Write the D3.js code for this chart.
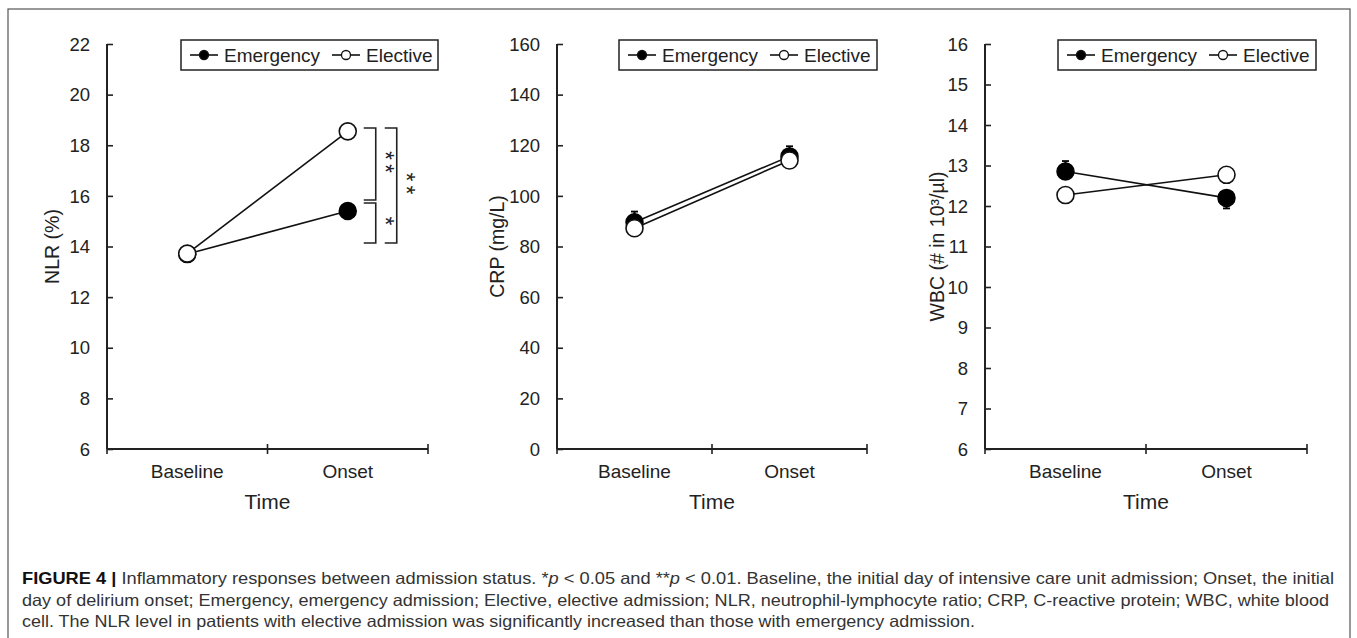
<!DOCTYPE html>
<html>
<head>
<meta charset="utf-8">
<script src="https://cdn.jsdelivr.net/npm/d3@7"></script>
<style>
  html, body { margin: 0; padding: 0; background: #fff; }
  svg { display: block; font-family: "Liberation Sans", Arial, sans-serif; }
</style>
</head>
<body>
<svg id="chart" width="1357" height="638"></svg>
<script>
// ---------- data ----------
const categories = ["Baseline", "Onset"];
const seriesNames = ["Emergency", "Elective"];

const nlrEmergency = [13.7, 15.4];
const nlrElective  = [13.72, 18.55];
const nlrTicks = [6, 8, 10, 12, 14, 16, 18, 20, 22];

const crpEmergency = [89.6, 115.6];
const crpElective  = [87.2, 114.0];
const crpEmergencyErr = [4.2, 4.0];
const crpTicks = [0, 20, 40, 60, 80, 100, 120, 140, 160];

const wbcEmergency = [12.85, 12.2];
const wbcElective  = [12.27, 12.77];
const wbcEmergencyErr = [0.26, -0.26];   // sign = direction of the drawn half bar
const wbcTicks = [6, 7, 8, 9, 10, 11, 12, 13, 14, 15, 16];

// significance brackets for NLR at Onset: [from, to, label, level]
const nlrBrackets = [
  [18.68, 15.84, "**", 0],
  [15.72, 14.14, "*", 0],
  [18.68, 14.14, "**", 1]
];

const captionLines = [
  [{t: "FIGURE 4 |", b: true}, {t: " Inflammatory responses between admission status. *"}, {t: "p", i: true}, {t: " < 0.05 and **"}, {t: "p", i: true}, {t: " < 0.01. Baseline, the initial day of intensive care unit admission; Onset, the initial"}],
  [{t: "day of delirium onset; Emergency, emergency admission; Elective, elective admission; NLR, neutrophil-lymphocyte ratio; CRP, C-reactive protein; WBC, white blood"}],
  [{t: "cell. The NLR level in patients with elective admission was significantly increased than those with emergency admission."}]
];

// ---------- layout ----------
const svg = d3.select("#chart");

// outer frame
svg.append("rect").attr("x", 8).attr("y", 9).attr("width", 1342).attr("height", 640)
  .attr("fill", "none").attr("stroke", "#555").attr("stroke-width", 1.2);

const panels = [
  {x0: 107, x1: 428, domain: [6, 22], ticks: nlrTicks, label: "NLR (%)", labelX: 52,
   em: nlrEmergency, el: nlrElective, emErr: null, legendX: 181, legendW: 257, brackets: nlrBrackets},
  {x0: 557, x1: 867, domain: [0, 160], ticks: crpTicks, label: "CRP (mg/L)", labelX: 497,
   em: crpEmergency, el: crpElective, emErr: crpEmergencyErr, legendX: 619, legendW: 258},
  {x0: 985, x1: 1307, domain: [6, 16], ticks: wbcTicks, label: "WBC (# in 10³/µl)", labelX: 937,
   em: wbcEmergency, el: wbcElective, emErr: wbcEmergencyErr, legendX: 1058, legendW: 258}
];

const yTop = 44, yBot = 449;

panels.forEach(p => {
  const g = svg.append("g");
  const x = d3.scaleBand().domain(categories).range([p.x0, p.x1]);
  const y = d3.scaleLinear().domain(p.domain).range([yBot, yTop]);
  const cx = c => x(c) + x.bandwidth() / 2;

  // y axis
  const yAxis = d3.axisRight(y).tickValues(p.ticks).tickSize(6).tickFormat("");
  const ya = g.append("g").attr("transform", `translate(${p.x0},0)`).call(yAxis);
  ya.select(".domain").attr("stroke", "#222").attr("stroke-width", 2).attr("d", `M0,${yTop}V${yBot}`);
  ya.selectAll(".tick line").attr("stroke", "#222").attr("stroke-width", 1.6);
  g.selectAll(".ytl").data(p.ticks).enter().append("text")
    .attr("x", p.x0 - 17).attr("y", d => y(d)).attr("dy", "0.36em")
    .attr("text-anchor", "end").attr("font-size", 18.5).attr("fill", "#222").text(d => d);

  // x axis with crossing ticks at band edges
  g.append("line").attr("x1", p.x0).attr("x2", p.x1).attr("y1", yBot).attr("y2", yBot)
    .attr("stroke", "#222").attr("stroke-width", 2);
  const edges = [p.x0, x(categories[1]), p.x1];
  g.selectAll(".xt").data(edges).enter().append("line")
    .attr("x1", d => d).attr("x2", d => d).attr("y1", yBot - 5).attr("y2", yBot + 5)
    .attr("stroke", "#222").attr("stroke-width", 1.6);
  g.selectAll(".xtl").data(categories).enter().append("text")
    .attr("x", d => cx(d)).attr("y", 478).attr("text-anchor", "middle")
    .attr("font-size", 19).attr("fill", "#222").text(d => d);
  g.append("text").attr("x", (p.x0 + p.x1) / 2).attr("y", 509).attr("text-anchor", "middle")
    .attr("font-size", 21).attr("fill", "#222").text("Time");

  // y label
  g.append("text").attr("transform", `translate(${p.labelX},${(yTop + yBot) / 2}) rotate(-90)`)
    .attr("text-anchor", "middle").attr("dy", "0.36em")
    .attr("font-size", 19.5).attr("fill", "#222").text(p.label);

  // lines
  const line = d3.line().x((d, i) => cx(categories[i])).y(d => y(d));
  [p.em, p.el].forEach(vals => {
    g.append("path").datum(vals).attr("d", line).attr("fill", "none")
      .attr("stroke", "#111").attr("stroke-width", 1.6);
  });

  // error bars (emergency), short half bars peeking out of the markers
  if (p.emErr) {
    p.em.forEach((v, i) => {
      const e = p.emErr[i];
      const xc = cx(categories[i]);
      g.append("line").attr("x1", xc).attr("x2", xc).attr("y1", y(v)).attr("y2", y(v + e))
        .attr("stroke", "#000").attr("stroke-width", 2);
      g.append("line").attr("x1", xc - 3.5).attr("x2", xc + 3.5).attr("y1", y(v + e)).attr("y2", y(v + e))
        .attr("stroke", "#000").attr("stroke-width", 1.8);
    });
  }

  // markers: emergency filled, elective open (drawn on top)
  g.selectAll(".em").data(p.em).enter().append("circle")
    .attr("cx", (d, i) => cx(categories[i])).attr("cy", d => y(d)).attr("r", 8.5)
    .attr("fill", "#000").attr("stroke", "#000").attr("stroke-width", 1.5);
  g.selectAll(".el").data(p.el).enter().append("circle")
    .attr("cx", (d, i) => cx(categories[i])).attr("cy", d => y(d)).attr("r", 8.5)
    .attr("fill", "#fff").attr("stroke", "#111").attr("stroke-width", 1.6);

  // legend
  const lg = g.append("g");
  lg.append("rect").attr("x", p.legendX).attr("y", 40).attr("width", p.legendW).attr("height", 30)
    .attr("fill", "#fff").attr("stroke", "#222").attr("stroke-width", 1.5);
  const ly = 55;
  const items = [
    {name: seriesNames[0], lx: p.legendX + 9, fill: "#000"},
    {name: seriesNames[1], lx: p.legendX + 151, fill: "#fff"}
  ];
  items.forEach(it => {
    lg.append("line").attr("x1", it.lx).attr("x2", it.lx + 28).attr("y1", ly).attr("y2", ly)
      .attr("stroke", "#111").attr("stroke-width", 1.6);
    lg.append("circle").attr("cx", it.lx + 14).attr("cy", ly).attr("r", 4.5)
      .attr("fill", it.fill).attr("stroke", "#111").attr("stroke-width", 1.3);
    lg.append("text").attr("x", it.lx + 34).attr("y", ly).attr("dy", "0.36em")
      .attr("font-size", 19).attr("fill", "#222").text(it.name);
  });

  // significance brackets
  if (p.brackets) {
    const bx = cx(categories[1]);
    p.brackets.forEach(b => {
      const xr = bx + 28 + b[3] * 21, xl = xr - 12;
      const y1 = y(b[0]), y2 = y(b[1]);
      g.append("path").attr("d", `M${xl},${y1}H${xr}V${y2}H${xl}`)
        .attr("fill", "none").attr("stroke", "#222").attr("stroke-width", 1.6);
      const mid = (y1 + y2) / 2;
      // stars written as one vertical (rotated) text
      g.append("text")
        .attr("transform", `translate(${xr + 1},${mid}) rotate(90)`)
        .attr("text-anchor", "middle").attr("font-size", 23)
        .attr("letter-spacing", 4).attr("fill", "#222").text(b[2]);
    });
  }
});

// caption
const capY = [579, 601, 622];
const capEnd = [1334, 1329, 975];
captionLines.forEach((segs, li) => {
  const t = svg.append("text").attr("x", 22).attr("y", capY[li] + 5)
    .attr("font-size", 16.5).attr("fill", "#333")
    .attr("textLength", capEnd[li] - 22).attr("lengthAdjust", "spacingAndGlyphs");
  segs.forEach(s => {
    t.append("tspan").attr("font-weight", s.b ? "bold" : null)
      .attr("font-style", s.i ? "italic" : null)
      .attr("fill", s.b ? "#111" : null).text(s.t);
  });
});
</script>
</body>
</html>
